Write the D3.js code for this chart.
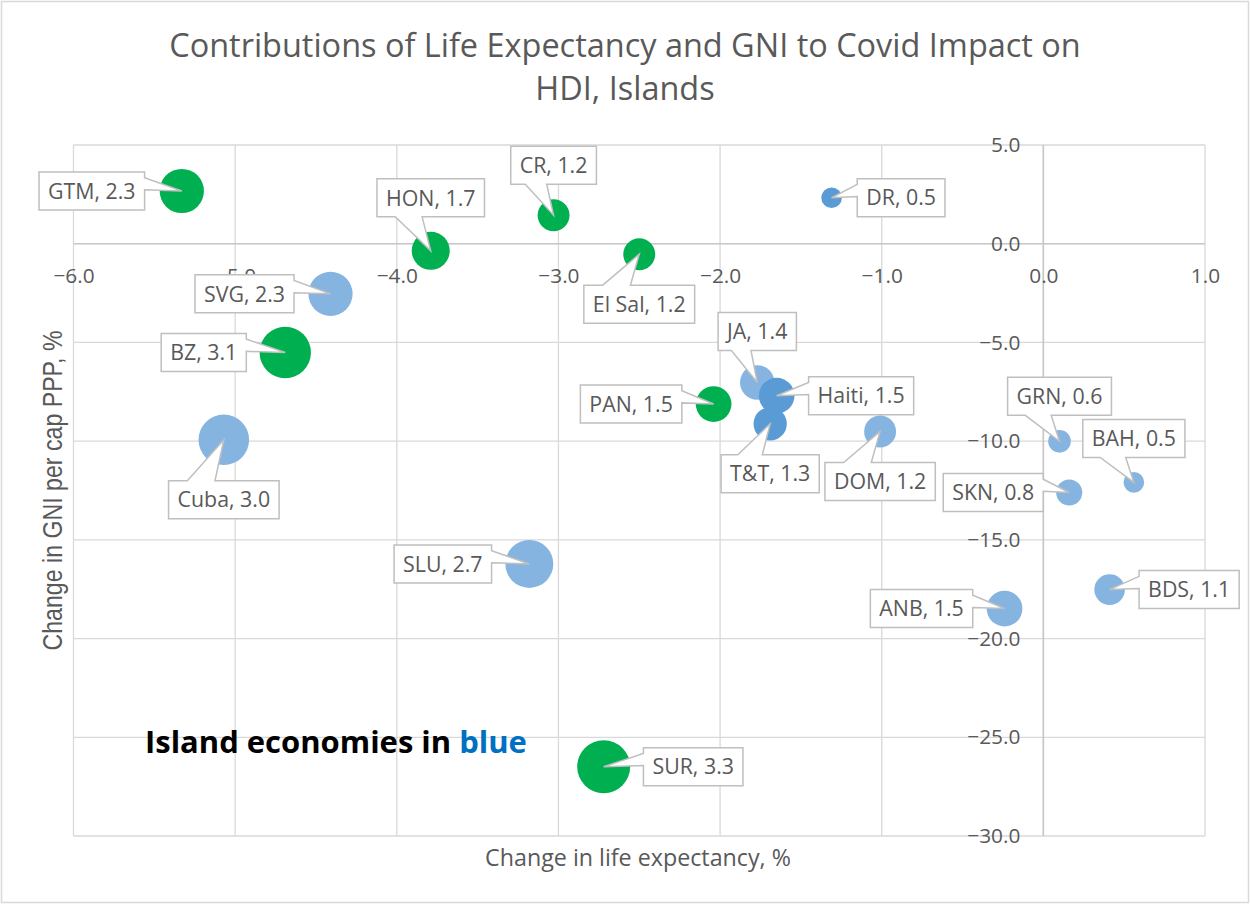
<!DOCTYPE html>
<html><head><meta charset="utf-8">
<script src="https://cdn.jsdelivr.net/npm/d3@7"></script>
<style>body{margin:0;background:#fff;} svg{display:block}</style>
</head><body>
<svg id="c" width="1250" height="904"></svg>
<script>
// ---- data ----
const countries = ["GTM","HON","CR","El Sal","SVG","DR","BZ","Cuba","PAN","JA","T&T","Haiti","DOM","GRN","BAH","SKN","SLU","ANB","BDS","SUR"];
const lifeExpChange = [-5.33,-3.79,-3.03,-2.50,-4.41,-1.31,-4.69,-5.07,-2.04,-1.77,-1.69,-1.65,-1.01,0.10,0.56,0.16,-3.18,-0.24,0.41,-2.72];
const gniChange = [2.67,-0.36,1.44,-0.53,-2.54,2.33,-5.51,-9.93,-8.12,-7.03,-9.12,-7.70,-9.51,-10.01,-12.09,-12.6,-16.22,-18.48,-17.52,-26.49];
const hdiImpact = [2.3,1.7,1.2,1.2,2.3,0.5,3.1,3.0,1.5,1.4,1.3,1.5,1.2,0.6,0.5,0.8,2.7,1.5,1.1,3.3];
const groups = ["mainland","mainland","mainland","mainland","island","islandDark","mainland","island","mainland","island","islandDark","islandDark","island","island","island","island","island","island","island","mainland"];
const xTicks = [-6,-5,-4,-3,-2,-1,0,1];
const yTicks = [5,0,-5,-10,-15,-20,-25,-30];
const titleLines = ["Contributions of Life Expectancy and GNI to Covid Impact on","HDI, Islands"];
const xTitle = "Change in life expectancy, %";
const yTitle = "Change in GNI per cap PPP, %";

// ---- layout (label callout offsets from bubble centre, px) ----
const labelDX = [-90,0,0,0,-86,69.5,-81.5,0,-82.5,0,0,84.5,0,0,0,-76,-86.5,-83,79.5,89.5];
const labelDY = [0,-53,-50,50,0,0,0,60,0,-51,50,0,50,-45,-44,0,0,0,0,0];
const colors = {mainland:"#00B050", island:"#85B4E1", islandDark:"#5B9BD5"};

const svg = d3.select("#c");
const FONT = "'Open Sans', sans-serif";
const TXT = "#595959";

function fit(text, target, family, weight){
  const t = svg.append("text").attr("font-family",family).attr("font-weight",weight||"normal").attr("font-size",100).text(text);
  const w = t.node().getComputedTextLength(); t.remove();
  return 100*target/w;
}

const W=1250,H=904;
svg.append("rect").attr("x",0).attr("y",0).attr("width",W).attr("height",H).attr("fill","#fff");
svg.append("rect").attr("x",1.5).attr("y",1.5).attr("width",W-3).attr("height",H-3).attr("fill","none").attr("stroke","#D9D9D9").attr("stroke-width",1.5);

const x = d3.scaleLinear().domain([-6,1]).range([73.5,1205]);
const y = d3.scaleLinear().domain([-30,5]).range([836,145]);
const r = d3.scaleSqrt().domain([0,3.3]).range([0,26.5]);

// gridlines
const grid = svg.append("g");
grid.selectAll("line.v").data(xTicks).join("line").attr("class","v")
  .attr("x1",d=>x(d)).attr("x2",d=>x(d)).attr("y1",y(5)).attr("y2",y(-30))
  .attr("stroke","#D9D9D9").attr("stroke-width",1.3);
grid.selectAll("line.h").data(yTicks).join("line").attr("class","h")
  .attr("x1",x(-6)).attr("x2",x(1)).attr("y1",d=>y(d)).attr("y2",d=>y(d))
  .attr("stroke","#D9D9D9").attr("stroke-width",1.3);
// axis lines
svg.append("line").attr("x1",x(0)).attr("x2",x(0)).attr("y1",y(5)).attr("y2",y(-30)).attr("stroke","#C8C8C8").attr("stroke-width",1.6);
svg.append("line").attr("x1",x(-6)).attr("x2",x(1)).attr("y1",y(0)).attr("y2",y(0)).attr("stroke","#C8C8C8").attr("stroke-width",1.6);

const tickSize = fit("-6.0",36,FONT);
const xa = svg.append("g").attr("transform",`translate(0,${y(0)})`)
  .call(d3.axisBottom(x).tickValues(xTicks).tickFormat(d3.format(".1f")).tickSize(0).tickPadding(25));
xa.select(".domain").remove();
xa.selectAll("text").attr("font-family",FONT).attr("font-size",tickSize).attr("fill",TXT);
const ya = svg.append("g").attr("transform",`translate(${x(0)},0)`)
  .call(d3.axisLeft(y).tickValues(yTicks).tickFormat(d3.format(".1f")).tickSize(0).tickPadding(23));
ya.select(".domain").remove();
ya.selectAll("text").attr("font-family",FONT).attr("font-size",tickSize).attr("fill",TXT);

// title
const titleSize = fit(titleLines[0],912,FONT);
svg.append("text").attr("x",625).attr("y",57).attr("text-anchor","middle").attr("font-family",FONT)
  .attr("font-size",titleSize).attr("fill",TXT).text(titleLines[0]);
svg.append("text").attr("x",625).attr("y",100).attr("text-anchor","middle").attr("font-family",FONT)
  .attr("font-size",titleSize).attr("fill",TXT).text(titleLines[1]);

// axis titles
svg.append("text").attr("x",638).attr("y",866).attr("text-anchor","middle").attr("font-family",FONT)
  .attr("font-size",fit(xTitle,306,FONT)).attr("fill",TXT).text(xTitle);
svg.append("text").attr("transform",`translate(62,${(y(5)+y(-30))/2}) rotate(-90)`).attr("text-anchor","middle")
  .attr("font-family","'Liberation Sans', Arial, sans-serif").attr("font-size",28).attr("fill",TXT)
  .attr("textLength",320).attr("lengthAdjust","spacingAndGlyphs").text(yTitle);

// bubbles
const data = countries.map((c,i)=>({c, lx:lifeExpChange[i], g:gniChange[i], v:hdiImpact[i], grp:groups[i], dx:labelDX[i], dy:labelDY[i]}));
svg.append("g").selectAll("circle").data(data).join("circle")
  .attr("cx",d=>x(d.lx)).attr("cy",d=>y(d.g)).attr("r",d=>r(d.v)).attr("fill",d=>colors[d.grp]);

// callout labels
const labelSize = fit("GTM, 2.3El Sal, 1.2",180.5,FONT);
const lg = svg.append("g");
data.forEach(d=>{
  const txt = `${d.c}, ${d.v.toFixed(1)}`;
  const px = x(d.lx), py = y(d.g);
  const cx = px + d.dx, cy = py + d.dy;
  const t = lg.append("text").attr("font-family",FONT).attr("font-size",labelSize).text(txt);
  const tw = t.node().getComputedTextLength(); t.remove();
  const w = tw + 18, h = 38;
  const x0 = cx - w/2, x1 = cx + w/2, y0 = cy - h/2, y1 = cy + h/2;
  let p;
  if (Math.abs(d.dx) > Math.abs(d.dy)) {
    const a1 = y0 + 0.15*h, a2 = y0 + 0.47*h;
    if (d.dx < 0) p = `M${x0},${y0}H${x1}V${a1}L${px},${py}L${x1},${a2}V${y1}H${x0}Z`;
    else p = `M${x0},${y0}H${x1}V${y1}H${x0}V${a2}L${px},${py}L${x0},${a1}Z`;
  } else {
    const b1 = x0 + 0.17*w, b2 = x0 + 0.42*w;
    if (d.dy > 0) p = `M${x0},${y0}H${b1}L${px},${py}L${b2},${y0}H${x1}V${y1}H${x0}Z`;
    else p = `M${x0},${y0}H${x1}V${y1}H${b2}L${px},${py}L${b1},${y1}H${x0}Z`;
  }
  lg.append("path").attr("d",p).attr("fill","#fff").attr("stroke","#BFBFBF").attr("stroke-width",1.5).attr("stroke-linejoin","miter");
  lg.append("text").attr("x",cx).attr("y",cy).attr("dy","0.36em").attr("text-anchor","middle")
    .attr("font-family",FONT).attr("font-size",labelSize).attr("fill",TXT).text(txt);
});

// annotation
const noteText = "Island economies in blue";
const noteSize = fit(noteText,382,FONT,"bold");
const note = svg.append("text").attr("x",145).attr("y",753).attr("font-family",FONT).attr("font-weight","bold")
  .attr("font-size",noteSize).attr("fill","#000");
note.append("tspan").text("Island economies in ");
note.append("tspan").attr("fill","#0070C0").text("blue");
</script>
</body></html>
